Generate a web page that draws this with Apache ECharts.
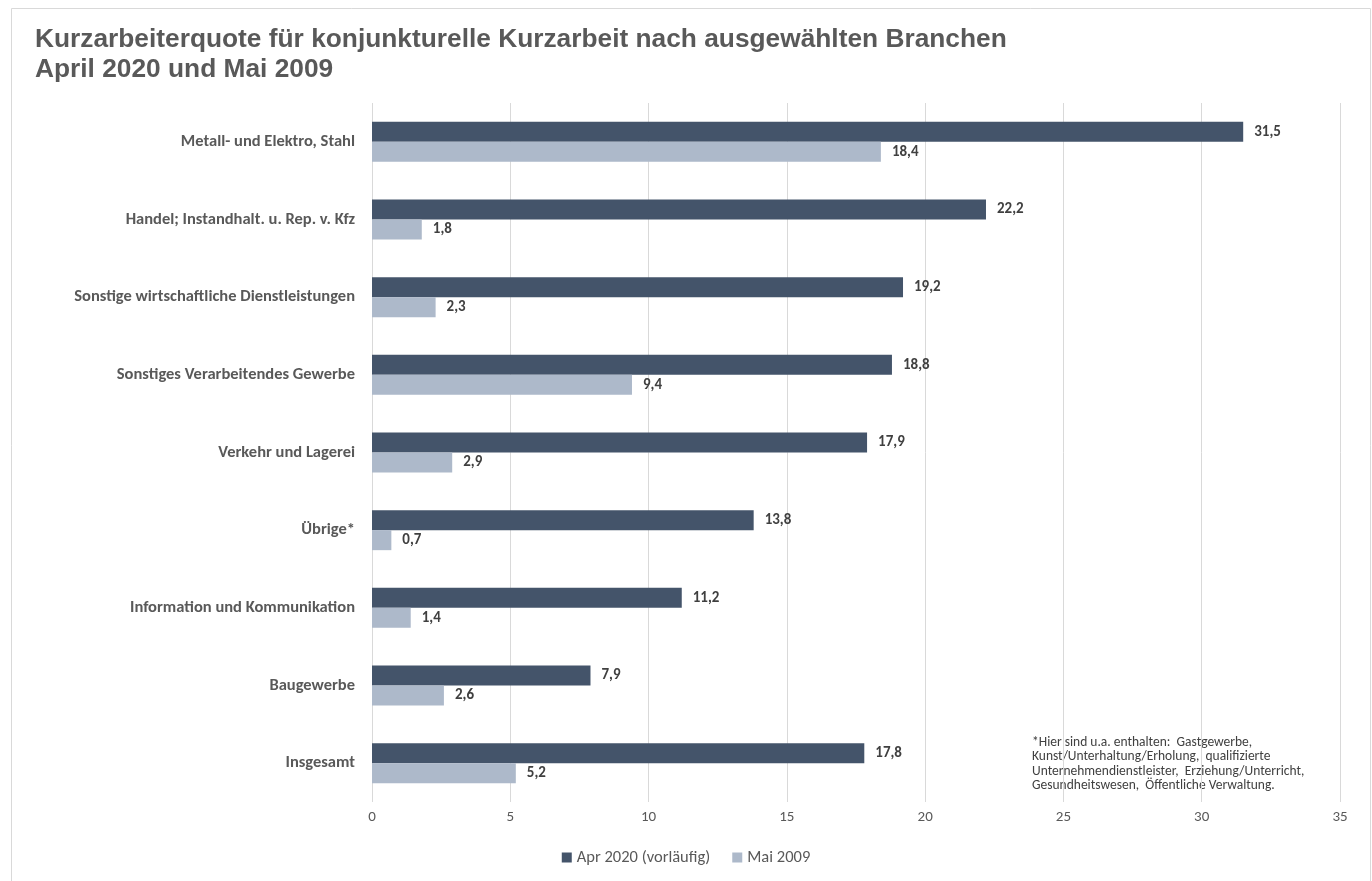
<!DOCTYPE html>
<html>
<head>
<meta charset="utf-8">
<script src="https://cdn.jsdelivr.net/npm/echarts@6/dist/echarts.min.js"></script>
<style>
html,body{margin:0;padding:0;background:#fff;}
#c{width:1372px;height:881px;}
</style>
</head>
<body>
<div id="c"></div>
<script>
const categories = [
  "Metall- und Elektro, Stahl",
  "Handel; Instandhalt. u. Rep. v. Kfz",
  "Sonstige wirtschaftliche Dienstleistungen",
  "Sonstiges Verarbeitendes Gewerbe",
  "Verkehr und Lagerei",
  "Übrige*",
  "Information und Kommunikation",
  "Baugewerbe",
  "Insgesamt"
];
const apr2020 = [31.5, 22.2, 19.2, 18.8, 17.9, 13.8, 11.2, 7.9, 17.8];
const mai2009 = [18.4, 1.8, 2.3, 9.4, 2.9, 0.7, 1.4, 2.6, 5.2];
const seriesNames = ["Apr 2020 (vorläufig)", "Mai 2009"];
const titleLines = ["Kurzarbeiterquote für konjunkturelle Kurzarbeit nach ausgewählten Branchen", "April 2020 und Mai 2009"];
const noteLines = [
  "*Hier sind u.a. enthalten:  Gastgewerbe,",
  "Kunst/Unterhaltung/Erholung,  qualifizierte",
  "Unternehmendienstleister,  Erziehung/Unterricht,",
  "Gesundheitswesen,  Öffentliche Verwaltung."
];

const FONT = "Carlito, Lato, 'Open Sans', sans-serif";
const chart = echarts.init(document.getElementById('c'), null, {renderer: 'canvas'});
const fmt = p => String(p.value).replace('.', ',');
chart.setOption({
  animation: false,
  backgroundColor: '#fff',
  title: {
    text: titleLines.join('\n'),
    left: 30, top: 20,
    textStyle: {fontFamily: "'Liberation Sans', Arial, sans-serif", fontWeight: 'bold', fontSize: 26.3, color: '#595959', lineHeight: 30}
  },
  graphic: [
    {type: 'rect', left: 9, top: 6, shape: {width: 1359, height: 900}, style: {fill: 'none', stroke: '#d9d9d9', lineWidth: 1}, silent: true, z: -1},
    {type: 'text', left: 1032, top: 735, style: {text: noteLines.join('\n'), font: "13.5px " + FONT, fill: '#404040', lineHeight: 14.5}}
  ],
  legend: {
    bottom: 10, left: 'center',
    itemWidth: 10, itemHeight: 10, itemGap: 22,
    icon: 'rect',
    textStyle: {fontFamily: FONT, fontSize: 16.5, color: '#595959'},
    data: seriesNames
  },
  grid: {left: 372, right: 32, top: 103, bottom: 79, containLabel: false},
  xAxis: {
    type: 'value', min: 0, max: 35, interval: 5,
    axisLine: {show: false}, axisTick: {show: false},
    axisLabel: {fontFamily: FONT, fontSize: 15, color: '#595959', margin: 8},
    splitLine: {lineStyle: {color: '#d9d9d9', width: 1}}
  },
  yAxis: {
    type: 'category', data: categories, inverse: true,
    axisLine: {show: false}, axisTick: {show: false},
    axisLabel: {fontFamily: FONT, fontSize: 16.5, fontWeight: 'bold', color: '#595959', margin: 17}
  },
  series: [
    {name: seriesNames[0], type: 'bar', data: apr2020, barWidth: 20, barGap: '0%',
     itemStyle: {color: '#44546a'},
     label: {show: true, position: 'right', distance: 11, formatter: fmt, fontFamily: FONT, fontSize: 15, fontWeight: 'bold', color: '#404040'}},
    {name: seriesNames[1], type: 'bar', data: mai2009, barWidth: 20, barGap: '0%',
     itemStyle: {color: '#adb9ca'},
     label: {show: true, position: 'right', distance: 11, formatter: fmt, fontFamily: FONT, fontSize: 15, fontWeight: 'bold', color: '#404040'}}
  ]
});
</script>
</body>
</html>
